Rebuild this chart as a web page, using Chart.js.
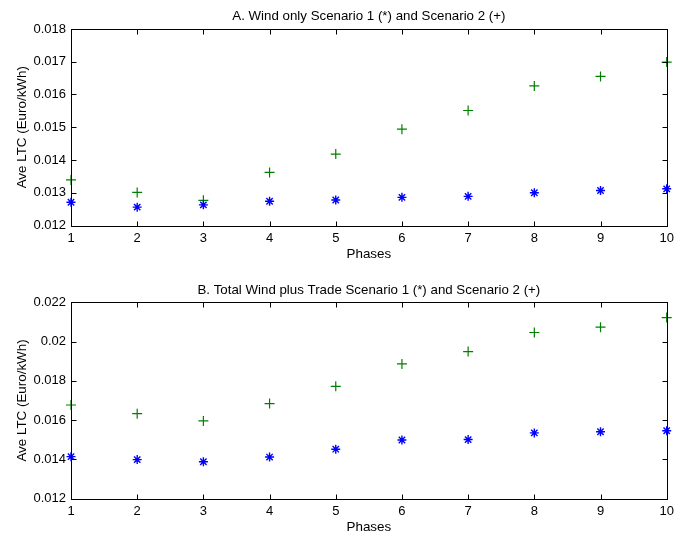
<!DOCTYPE html>
<html>
<head>
<meta charset="utf-8">
<script src="https://cdn.jsdelivr.net/npm/chart.js@4.4.1/dist/chart.umd.min.js"></script>
<style>
  body { margin: 0; background: #fff; }
  .box { position: absolute; left: 0; width: 676px; }
</style>
</head>
<body>
<div class="box" style="top:0;height:268px"><canvas id="chartA" width="676" height="268"></canvas></div>
<div class="box" style="top:268px;height:267px"><canvas id="chartB" width="676" height="267"></canvas></div>
<script>
// values
const phases = [1, 2, 3, 4, 5, 6, 7, 8, 9, 10];
const windScen1 = [0.01271, 0.01256, 0.01263, 0.01274, 0.01278, 0.01286, 0.01289, 0.01300, 0.01307, 0.01312];
const windScen2 = [0.01339, 0.01301, 0.01277, 0.01362, 0.01418, 0.01494, 0.01551, 0.01626, 0.01655, 0.01699];
const tradeScen1 = [0.01414, 0.01399, 0.01388, 0.01412, 0.01452, 0.01499, 0.01501, 0.01535, 0.01541, 0.01546];
const tradeScen2 = [0.01677, 0.01633, 0.01596, 0.01684, 0.01772, 0.01886, 0.01949, 0.02046, 0.02073, 0.02122];
const yTicksA = [0.012, 0.013, 0.014, 0.015, 0.016, 0.017, 0.018];
const yTicksB = [0.012, 0.014, 0.016, 0.018, 0.02, 0.022];

const FAMILY = '"Liberation Sans", Arial, Helvetica, sans-serif';
const FONT = { family: FAMILY, size: 13, weight: 'normal' };
const TITLE_FONT = { family: FAMILY, size: 13.3, weight: 'normal' };
const AXIS_FONT = { family: FAMILY, size: 13.4, weight: 'normal' };
Chart.defaults.font = FONT;
Chart.defaults.color = '#000';

// matlab-ish box with inward ticks
const boxTicks = {
  id: 'boxTicks',
  afterDraw(chart) {
    const { ctx, chartArea: a } = chart;
    const L = Math.round(a.left) + 0.5, R = Math.round(a.right) + 0.5;
    const T = Math.round(a.top) + 0.5, B = Math.round(a.bottom) + 0.5;
    ctx.save();
    ctx.strokeStyle = '#000';
    ctx.lineWidth = 1;
    ctx.strokeRect(L, T, R - L, B - T);
    ctx.beginPath();
    chart.scales.x.ticks.forEach(t => {
      const px = Math.round(chart.scales.x.getPixelForValue(t.value)) + 0.5;
      ctx.moveTo(px, B); ctx.lineTo(px, B - 5);
      ctx.moveTo(px, T); ctx.lineTo(px, T + 5);
    });
    chart.scales.y.ticks.forEach(t => {
      const py = Math.round(chart.scales.y.getPixelForValue(t.value)) + 0.5;
      ctx.moveTo(L, py); ctx.lineTo(L + 5, py);
      ctx.moveTo(R, py); ctx.lineTo(R - 5, py);
    });
    ctx.stroke();
    ctx.restore();
  }
};

function makeChart(id, title, s1, s2, yTicks, opt) {
  return new Chart(document.getElementById(id), {
    type: 'scatter',
    data: {
      datasets: [
        {
          label: 'Scenario 1',
          data: phases.map((p, i) => ({ x: p, y: s1[i] })),
          pointStyle: 'star',
          radius: 4.5,
          borderColor: '#0000ff',
          backgroundColor: '#0000ff',
          borderWidth: 1.4,
          clip: false
        },
        {
          label: 'Scenario 2',
          data: phases.map((p, i) => ({ x: p, y: s2[i] })),
          pointStyle: 'cross',
          radius: 5,
          borderColor: '#008000',
          backgroundColor: '#008000',
          borderWidth: 1.2,
          clip: false
        }
      ]
    },
    options: {
      responsive: false,
      animation: false,
      layout: { padding: { left: 0, right: 9.3, top: 0, bottom: opt.padBottom } },
      plugins: {
        legend: { display: false },
        tooltip: { enabled: false },
        title: {
          display: true,
          fullSize: false,   // center over the plot box, not the canvas
          text: title,
          font: TITLE_FONT,
          color: '#000',
          padding: opt.titlePad
        }
      },
      scales: {
        x: {
          type: 'linear',
          min: 1,
          max: 10,
          afterBuildTicks: s => { s.ticks = phases.map(v => ({ value: v })); },
          afterFit: s => { s.height = opt.xHeight; s.paddingLeft = 0; s.paddingRight = 0; },
          grid: { display: false, drawTicks: false },
          border: { display: false },
          ticks: { padding: opt.xTickPad, font: FONT, color: '#000', callback: v => String(v) },
          title: { display: true, text: 'Phases', font: AXIS_FONT, color: '#000', padding: { top: 0, bottom: 0 } }
        },
        y: {
          type: 'linear',
          min: yTicks[0],
          max: yTicks[yTicks.length - 1],
          afterBuildTicks: s => { s.ticks = yTicks.map(v => ({ value: v })); },
          afterFit: s => { s.width = 71; },
          grid: { display: false, drawTicks: false },
          border: { display: false },
          ticks: { padding: 5, font: FONT, color: '#000', callback: v => String(Number(v.toFixed(4))) },
          title: { display: true, text: 'Ave LTC (Euro/kWh)', font: AXIS_FONT, color: '#000', padding: { top: 14, bottom: 0 } }
        }
      }
    },
    plugins: [boxTicks]
  });
}

makeChart('chartA', 'A. Wind only Scenario 1 (*) and Scenario 2 (+)', windScen1, windScen2, yTicksA,
  { titlePad: { top: 8, bottom: 5 }, xHeight: 36.5, padBottom: 6, xTickPad: 5.5 });
makeChart('chartB', 'B. Total Wind plus Trade Scenario 1 (*) and Scenario 2 (+)', tradeScen1, tradeScen2, yTicksB,
  { titlePad: { top: 14, bottom: 4.3 }, xHeight: 36.3, padBottom: 0, xTickPad: 4.5 });
</script>
</body>
</html>
